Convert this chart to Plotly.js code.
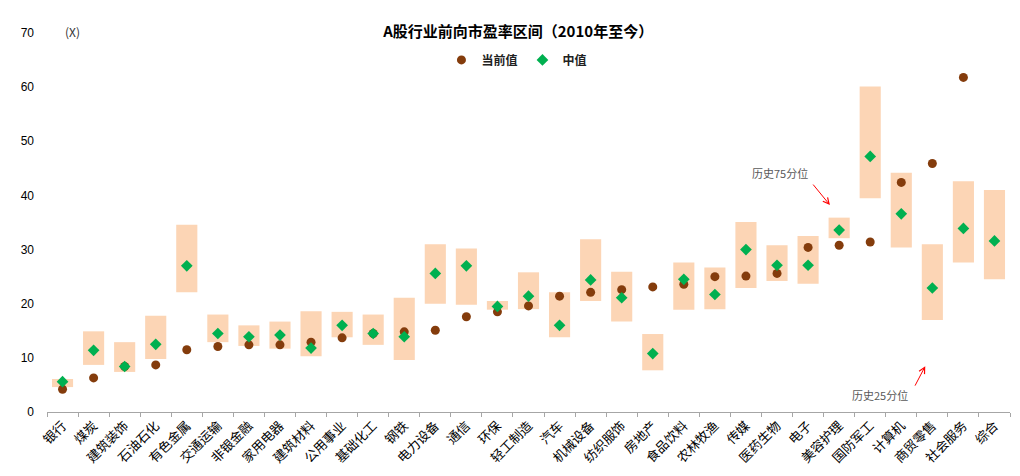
<!DOCTYPE html>
<html>
<head>
<meta charset="utf-8">
<script src="https://cdn.plot.ly/plotly-3.0.1.min.js"></script>
<style>html,body{margin:0;padding:0;background:#fff;}#chart{width:1020px;height:476px;}</style>
</head>
<body>
<div id="chart"></div>
<script>
const categories = ['银行','煤炭','建筑装饰','石油石化','有色金属','交通运输','非银金融','家用电器','建筑材料','公用事业','基础化工','钢铁','电力设备','通信','环保','轻工制造','汽车','机械设备','纺织服饰','房地产','食品饮料','农林牧渔','传媒','医药生物','电子','美容护理','国防军工','计算机','商贸零售','社会服务','综合'];
const p75 = [6.1,14.9,12.9,17.8,34.6,18.0,16.0,16.7,18.6,18.5,18.0,21.1,31.0,30.2,20.5,25.8,22.1,31.9,25.9,14.4,27.6,26.7,35.1,30.8,32.5,35.9,60.1,44.2,31.0,42.6,41.0];
const p25 = [4.6,8.7,7.4,9.8,22.1,12.9,12.2,11.7,10.3,13.8,12.4,9.6,20.0,19.8,18.9,19.0,13.8,20.5,16.7,7.7,18.9,19.0,22.9,24.2,23.7,32.1,39.5,30.4,17.0,27.6,24.5];
const median = [5.6,11.4,8.4,12.5,27.0,14.5,13.9,14.2,11.8,16.0,14.5,13.9,25.6,27.0,19.5,21.4,16.0,24.4,21.1,10.8,24.5,21.7,30.0,27.1,27.1,33.6,47.2,36.6,22.9,33.9,31.6];
const current = [4.2,6.3,8.4,8.7,11.5,12.1,12.4,12.4,12.9,13.7,14.5,14.8,15.1,17.6,18.5,19.6,21.4,22.1,22.6,23.1,23.6,25.0,25.1,25.6,30.4,30.8,31.4,42.4,45.9,61.8,null];
const yTicks = [0,10,20,30,40,50,60,70];

const FONT = '"Noto Sans CJK SC", "Noto Sans", Arial, sans-serif';

const traces = [
  {
    type: 'bar', x: categories,
    y: p75.map((v, i) => v - p25[i]), base: p25,
    width: 0.68,
    marker: {color: '#FCD5B5', line: {width: 0}},
    showlegend: false, hoverinfo: 'skip'
  },
  {
    type: 'scatter', mode: 'markers', name: '<b>当前值</b>', x: categories, y: current,
    marker: {symbol: 'circle', size: 9, color: '#843C0C'}
  },
  {
    type: 'scatter', mode: 'markers', name: '<b>中值</b>', x: categories, y: median,
    marker: {symbol: 'diamond', size: 9, color: '#00B050'}
  }
];

const layout = {
  width: 1020, height: 476,
  margin: {l: 47, r: 10, t: 33, b: 64, pad: 0},
  paper_bgcolor: '#ffffff', plot_bgcolor: '#ffffff',
  font: {family: FONT, size: 12, color: '#000000'},
  title: {text: '<b>A股行业前向市盈率区间（2010年至今）</b>', x: 0.508, xanchor: 'center', y: 0.933, yanchor: 'middle', font: {size: 15, color: '#000', family: FONT}},
  showlegend: true,
  legend: {orientation: 'h', x: 0.488, xanchor: 'center', y: 0.929, yanchor: 'middle', bgcolor: 'rgba(0,0,0,0)', font: {size: 12, color: '#222'}, itemwidth: 30, tracegroupgap: 0},
  bargap: 0.32,
  xaxis: {
    type: 'category', showgrid: false, zeroline: false,
    showline: true, linecolor: '#A6A6A6', linewidth: 1,
    ticks: 'outside', tickson: 'boundaries', ticklen: 4, tickcolor: '#A6A6A6',
    tickangle: -45, tickfont: {size: 13, color: '#000', family: FONT},
    range: [-0.5, 30.5], fixedrange: true
  },
  yaxis: {
    range: [0, 70], tickvals: yTicks, ticktext: yTicks.map(String),
    showgrid: false, zeroline: false, showline: false, ticks: '',
    ticklabelstandoff: 12, tickfont: {size: 12, color: '#000', family: 'Arial, "Liberation Sans", sans-serif'},
    fixedrange: true
  },
  annotations: [
    {text: '(X)', xref: 'paper', yref: 'paper', x: 0.026, y: 1.003, showarrow: false, font: {size: 12, color: '#333'}, xanchor: 'center', yanchor: 'middle'},
    {text: '历史75分位', xref: 'paper', yref: 'paper', x: 0.761, y: 0.631, showarrow: false, font: {size: 11, color: '#595959'}, xanchor: 'center', yanchor: 'middle'},
    {text: '', xref: 'paper', yref: 'paper', x: 0.813, y: 0.546, showarrow: true, ax: -18, ay: -22, arrowcolor: '#FF0000', arrowwidth: 1, arrowhead: 5, arrowsize: 1.2},
    {text: '历史25分位', xref: 'paper', yref: 'paper', x: 0.865, y: 0.045, showarrow: false, font: {size: 11, color: '#595959'}, xanchor: 'center', yanchor: 'middle'},
    {text: '', xref: 'paper', yref: 'paper', x: 0.912, y: 0.121, showarrow: true, ax: -11, ay: 21, arrowcolor: '#FF0000', arrowwidth: 1, arrowhead: 5, arrowsize: 1.2}
  ]
};

Plotly.newPlot('chart', traces, layout, {displayModeBar: false, staticPlot: true});
</script>
</body>
</html>
